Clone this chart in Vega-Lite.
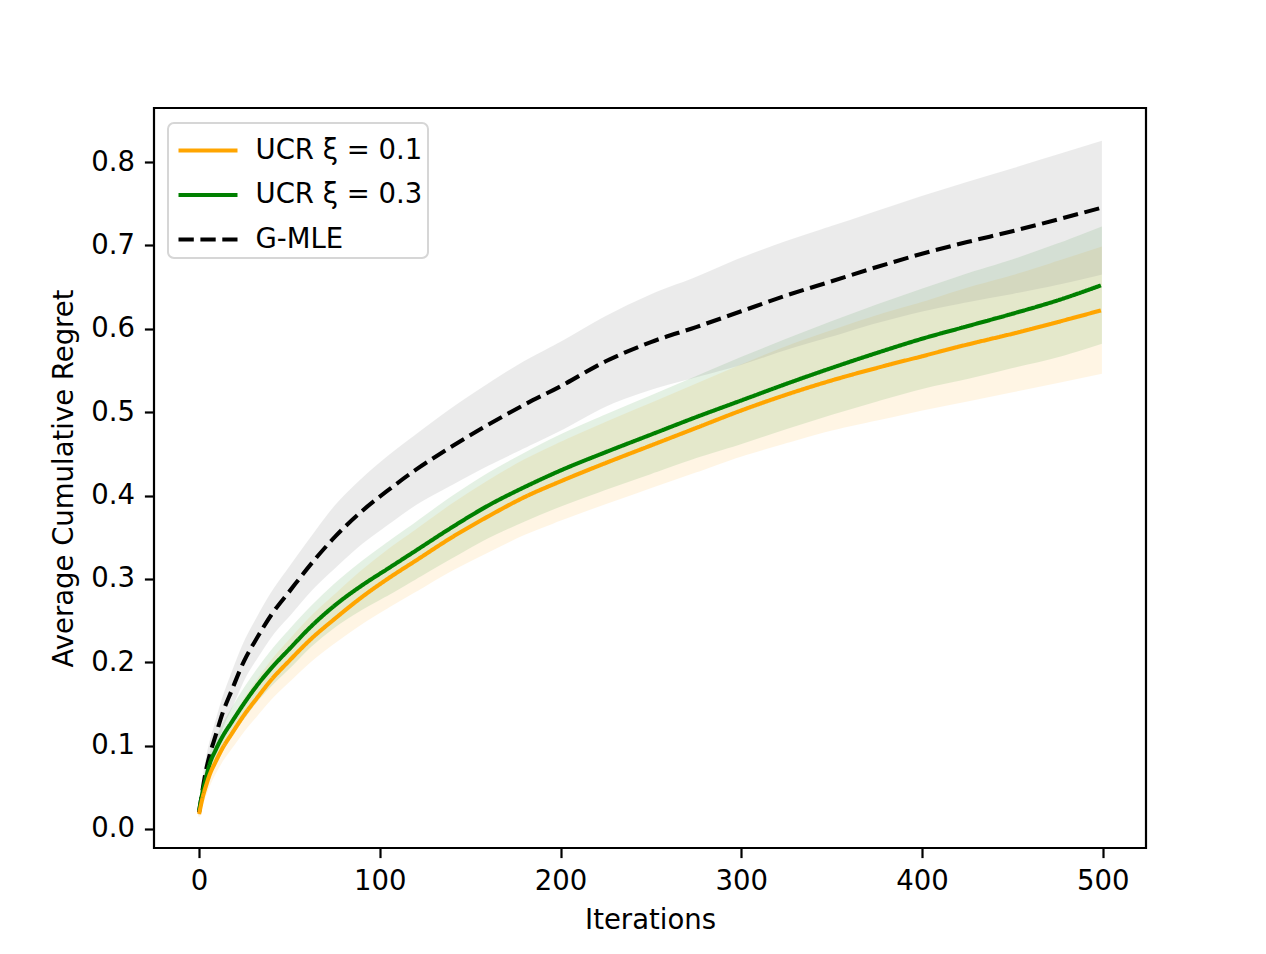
{
  "$schema": "https://vega.github.io/schema/vega-lite/v6.json",
  "width": 992,
  "height": 740,
  "autosize": "none",
  "padding": {"left": 154, "top": 108, "right": 120, "bottom": 106},
  "background": "white",
  "config": {
    "view": {"stroke": "black", "strokeWidth": 2.2},
    "font": "DejaVu Sans",
    "axis": {
      "grid": false,
      "domain": false,
      "tickColor": "black",
      "tickWidth": 2.2,
      "tickSize": 9.6,
      "labelPadding": 10,
      "labelFont": "DejaVu Sans",
      "labelFontSize": 27.5,
      "labelColor": "black",
      "titleFont": "DejaVu Sans",
      "titleFontSize": 27.5,
      "titleFontWeight": "normal",
      "titleColor": "black"
    },
    "legend": {"strokeWidth": 2}
  },
  "data": {
    "values": [
      {"it": 0, "s": "G-MLE", "m": 0.020, "lo": 0.017, "hi": 0.023},
      {"it": 2, "s": "G-MLE", "m": 0.048, "lo": 0.041, "hi": 0.055},
      {"it": 4, "s": "G-MLE", "m": 0.072, "lo": 0.062, "hi": 0.082},
      {"it": 6, "s": "G-MLE", "m": 0.090, "lo": 0.078, "hi": 0.102},
      {"it": 9, "s": "G-MLE", "m": 0.111, "lo": 0.097, "hi": 0.125},
      {"it": 13, "s": "G-MLE", "m": 0.139, "lo": 0.123, "hi": 0.155},
      {"it": 18, "s": "G-MLE", "m": 0.166, "lo": 0.147, "hi": 0.185},
      {"it": 25, "s": "G-MLE", "m": 0.202, "lo": 0.181, "hi": 0.223},
      {"it": 32, "s": "G-MLE", "m": 0.229, "lo": 0.206, "hi": 0.252},
      {"it": 40, "s": "G-MLE", "m": 0.257, "lo": 0.232, "hi": 0.282},
      {"it": 50, "s": "G-MLE", "m": 0.285, "lo": 0.257, "hi": 0.313},
      {"it": 62, "s": "G-MLE", "m": 0.318, "lo": 0.287, "hi": 0.349},
      {"it": 75, "s": "G-MLE", "m": 0.350, "lo": 0.314, "hi": 0.386},
      {"it": 90, "s": "G-MLE", "m": 0.381, "lo": 0.343, "hi": 0.419},
      {"it": 105, "s": "G-MLE", "m": 0.407, "lo": 0.367, "hi": 0.447},
      {"it": 120, "s": "G-MLE", "m": 0.431, "lo": 0.390, "hi": 0.472},
      {"it": 140, "s": "G-MLE", "m": 0.459, "lo": 0.414, "hi": 0.504},
      {"it": 160, "s": "G-MLE", "m": 0.485, "lo": 0.437, "hi": 0.533},
      {"it": 180, "s": "G-MLE", "m": 0.509, "lo": 0.458, "hi": 0.560},
      {"it": 200, "s": "G-MLE", "m": 0.531, "lo": 0.479, "hi": 0.583},
      {"it": 225, "s": "G-MLE", "m": 0.561, "lo": 0.508, "hi": 0.614},
      {"it": 250, "s": "G-MLE", "m": 0.584, "lo": 0.528, "hi": 0.640},
      {"it": 275, "s": "G-MLE", "m": 0.602, "lo": 0.543, "hi": 0.661},
      {"it": 300, "s": "G-MLE", "m": 0.621, "lo": 0.558, "hi": 0.684},
      {"it": 325, "s": "G-MLE", "m": 0.640, "lo": 0.576, "hi": 0.704},
      {"it": 350, "s": "G-MLE", "m": 0.657, "lo": 0.592, "hi": 0.722},
      {"it": 375, "s": "G-MLE", "m": 0.674, "lo": 0.608, "hi": 0.740},
      {"it": 400, "s": "G-MLE", "m": 0.690, "lo": 0.622, "hi": 0.758},
      {"it": 425, "s": "G-MLE", "m": 0.704, "lo": 0.633, "hi": 0.775},
      {"it": 450, "s": "G-MLE", "m": 0.717, "lo": 0.643, "hi": 0.791},
      {"it": 475, "s": "G-MLE", "m": 0.731, "lo": 0.654, "hi": 0.808},
      {"it": 499, "s": "G-MLE", "m": 0.745, "lo": 0.666, "hi": 0.824},

      {"it": 0, "s": "UCR ξ = 0.3", "m": 0.022, "lo": 0.019, "hi": 0.025},
      {"it": 2, "s": "UCR ξ = 0.3", "m": 0.045, "lo": 0.039, "hi": 0.051},
      {"it": 4, "s": "UCR ξ = 0.3", "m": 0.063, "lo": 0.055, "hi": 0.071},
      {"it": 6, "s": "UCR ξ = 0.3", "m": 0.079, "lo": 0.069, "hi": 0.089},
      {"it": 9, "s": "UCR ξ = 0.3", "m": 0.094, "lo": 0.083, "hi": 0.105},
      {"it": 13, "s": "UCR ξ = 0.3", "m": 0.111, "lo": 0.098, "hi": 0.124},
      {"it": 18, "s": "UCR ξ = 0.3", "m": 0.128, "lo": 0.113, "hi": 0.143},
      {"it": 25, "s": "UCR ξ = 0.3", "m": 0.151, "lo": 0.134, "hi": 0.168},
      {"it": 32, "s": "UCR ξ = 0.3", "m": 0.172, "lo": 0.154, "hi": 0.190},
      {"it": 40, "s": "UCR ξ = 0.3", "m": 0.193, "lo": 0.173, "hi": 0.213},
      {"it": 50, "s": "UCR ξ = 0.3", "m": 0.216, "lo": 0.194, "hi": 0.238},
      {"it": 62, "s": "UCR ξ = 0.3", "m": 0.243, "lo": 0.220, "hi": 0.266},
      {"it": 75, "s": "UCR ξ = 0.3", "m": 0.268, "lo": 0.243, "hi": 0.293},
      {"it": 90, "s": "UCR ξ = 0.3", "m": 0.292, "lo": 0.264, "hi": 0.320},
      {"it": 105, "s": "UCR ξ = 0.3", "m": 0.313, "lo": 0.282, "hi": 0.344},
      {"it": 120, "s": "UCR ξ = 0.3", "m": 0.334, "lo": 0.301, "hi": 0.367},
      {"it": 140, "s": "UCR ξ = 0.3", "m": 0.362, "lo": 0.326, "hi": 0.398},
      {"it": 160, "s": "UCR ξ = 0.3", "m": 0.388, "lo": 0.350, "hi": 0.426},
      {"it": 180, "s": "UCR ξ = 0.3", "m": 0.410, "lo": 0.370, "hi": 0.450},
      {"it": 200, "s": "UCR ξ = 0.3", "m": 0.430, "lo": 0.388, "hi": 0.472},
      {"it": 225, "s": "UCR ξ = 0.3", "m": 0.452, "lo": 0.408, "hi": 0.496},
      {"it": 250, "s": "UCR ξ = 0.3", "m": 0.473, "lo": 0.427, "hi": 0.519},
      {"it": 275, "s": "UCR ξ = 0.3", "m": 0.494, "lo": 0.446, "hi": 0.542},
      {"it": 300, "s": "UCR ξ = 0.3", "m": 0.514, "lo": 0.463, "hi": 0.565},
      {"it": 325, "s": "UCR ξ = 0.3", "m": 0.534, "lo": 0.481, "hi": 0.587},
      {"it": 350, "s": "UCR ξ = 0.3", "m": 0.553, "lo": 0.498, "hi": 0.608},
      {"it": 375, "s": "UCR ξ = 0.3", "m": 0.571, "lo": 0.514, "hi": 0.628},
      {"it": 400, "s": "UCR ξ = 0.3", "m": 0.588, "lo": 0.529, "hi": 0.647},
      {"it": 425, "s": "UCR ξ = 0.3", "m": 0.603, "lo": 0.541, "hi": 0.665},
      {"it": 450, "s": "UCR ξ = 0.3", "m": 0.618, "lo": 0.554, "hi": 0.682},
      {"it": 475, "s": "UCR ξ = 0.3", "m": 0.634, "lo": 0.567, "hi": 0.701},
      {"it": 499, "s": "UCR ξ = 0.3", "m": 0.652, "lo": 0.583, "hi": 0.721},

      {"it": 0, "s": "UCR ξ = 0.1", "m": 0.018, "lo": 0.015, "hi": 0.021},
      {"it": 2, "s": "UCR ξ = 0.1", "m": 0.038, "lo": 0.032, "hi": 0.044},
      {"it": 4, "s": "UCR ξ = 0.1", "m": 0.053, "lo": 0.044, "hi": 0.062},
      {"it": 6, "s": "UCR ξ = 0.1", "m": 0.066, "lo": 0.055, "hi": 0.077},
      {"it": 9, "s": "UCR ξ = 0.1", "m": 0.080, "lo": 0.068, "hi": 0.092},
      {"it": 13, "s": "UCR ξ = 0.1", "m": 0.097, "lo": 0.083, "hi": 0.111},
      {"it": 18, "s": "UCR ξ = 0.1", "m": 0.114, "lo": 0.098, "hi": 0.130},
      {"it": 25, "s": "UCR ξ = 0.1", "m": 0.137, "lo": 0.119, "hi": 0.155},
      {"it": 32, "s": "UCR ξ = 0.1", "m": 0.157, "lo": 0.137, "hi": 0.177},
      {"it": 40, "s": "UCR ξ = 0.1", "m": 0.179, "lo": 0.157, "hi": 0.201},
      {"it": 50, "s": "UCR ξ = 0.1", "m": 0.202, "lo": 0.178, "hi": 0.226},
      {"it": 62, "s": "UCR ξ = 0.1", "m": 0.228, "lo": 0.202, "hi": 0.254},
      {"it": 75, "s": "UCR ξ = 0.1", "m": 0.252, "lo": 0.224, "hi": 0.280},
      {"it": 90, "s": "UCR ξ = 0.1", "m": 0.278, "lo": 0.247, "hi": 0.309},
      {"it": 105, "s": "UCR ξ = 0.1", "m": 0.301, "lo": 0.267, "hi": 0.335},
      {"it": 120, "s": "UCR ξ = 0.1", "m": 0.322, "lo": 0.286, "hi": 0.358},
      {"it": 140, "s": "UCR ξ = 0.1", "m": 0.350, "lo": 0.311, "hi": 0.389},
      {"it": 160, "s": "UCR ξ = 0.1", "m": 0.375, "lo": 0.333, "hi": 0.417},
      {"it": 180, "s": "UCR ξ = 0.1", "m": 0.398, "lo": 0.354, "hi": 0.442},
      {"it": 200, "s": "UCR ξ = 0.1", "m": 0.417, "lo": 0.371, "hi": 0.463},
      {"it": 225, "s": "UCR ξ = 0.1", "m": 0.439, "lo": 0.391, "hi": 0.487},
      {"it": 250, "s": "UCR ξ = 0.1", "m": 0.460, "lo": 0.410, "hi": 0.510},
      {"it": 275, "s": "UCR ξ = 0.1", "m": 0.481, "lo": 0.429, "hi": 0.533},
      {"it": 300, "s": "UCR ξ = 0.1", "m": 0.502, "lo": 0.448, "hi": 0.556},
      {"it": 325, "s": "UCR ξ = 0.1", "m": 0.521, "lo": 0.464, "hi": 0.578},
      {"it": 350, "s": "UCR ξ = 0.1", "m": 0.538, "lo": 0.479, "hi": 0.597},
      {"it": 375, "s": "UCR ξ = 0.1", "m": 0.553, "lo": 0.491, "hi": 0.615},
      {"it": 400, "s": "UCR ξ = 0.1", "m": 0.567, "lo": 0.503, "hi": 0.631},
      {"it": 425, "s": "UCR ξ = 0.1", "m": 0.581, "lo": 0.514, "hi": 0.648},
      {"it": 450, "s": "UCR ξ = 0.1", "m": 0.594, "lo": 0.525, "hi": 0.663},
      {"it": 475, "s": "UCR ξ = 0.1", "m": 0.608, "lo": 0.536, "hi": 0.680},
      {"it": 499, "s": "UCR ξ = 0.1", "m": 0.622, "lo": 0.547, "hi": 0.697}
    ]
  },
  "encoding": {
    "x": {
      "field": "it",
      "type": "quantitative",
      "title": "Iterations",
      "scale": {"domain": [-24.95, 523.95], "nice": false, "zero": false},
      "axis": {"values": [0, 100, 200, 300, 400, 500], "titlePadding": 11}
    },
    "y": {
      "field": "lo",
      "type": "quantitative",
      "title": "Average Cumulative Regret",
      "scale": {"domain": [-0.0228, 0.8648], "nice": false, "zero": false},
      "axis": {"values": [0, 0.1, 0.2, 0.3, 0.4, 0.5, 0.6, 0.7, 0.8], "format": ".1f", "titlePadding": 12}
    }
  },
  "layer": [
    {
      "transform": [{"filter": "datum.s == 'UCR ξ = 0.1'"}],
      "mark": {"type": "area", "fill": "#FFA500", "stroke": "#FFA500", "strokeWidth": 2, "opacity": 0.1, "interpolate": "monotone"},
      "encoding": {"y2": {"field": "hi"}}
    },
    {
      "transform": [{"filter": "datum.s == 'UCR ξ = 0.3'"}],
      "mark": {"type": "area", "fill": "#008000", "stroke": "#008000", "strokeWidth": 2, "opacity": 0.1, "interpolate": "monotone"},
      "encoding": {"y2": {"field": "hi"}}
    },
    {
      "transform": [{"filter": "datum.s == 'G-MLE'"}],
      "mark": {"type": "area", "fill": "#808080", "stroke": "#808080", "strokeWidth": 2, "opacity": 0.15, "interpolate": "monotone"},
      "encoding": {"y2": {"field": "hi"}}
    },
    {
      "mark": {"type": "line", "strokeWidth": 4.1, "interpolate": "monotone"},
      "encoding": {
        "y": {"field": "m", "type": "quantitative"},
        "color": {
          "field": "s",
          "type": "nominal",
          "scale": {"domain": ["UCR ξ = 0.1", "UCR ξ = 0.3", "G-MLE"], "range": ["#FFA500", "#008000", "#000000"]},
          "legend": {
            "orient": "none",
            "legendX": 14,
            "legendY": 15,
            "title": null,
            "labelFont": "DejaVu Sans",
            "labelFontSize": 27.5,
            "labelColor": "black",
            "labelLimit": 400,
            "labelOffset": 25,
            "symbolType": "M-1.475,0H1.475",
            "symbolSize": 1600,
            "symbolOffset": 12.5,
            "symbolStrokeWidth": 4.1,
            "rowPadding": 8.5,
            "padding": 5,
            "strokeColor": "#d6d6d6",
            "fillColor": "white",
            "cornerRadius": 6
          }
        },
        "strokeDash": {
          "field": "s",
          "type": "nominal",
          "scale": {"domain": ["UCR ξ = 0.1", "UCR ξ = 0.3", "G-MLE"], "range": [[1, 0], [1, 0], [15.3, 6.6]]},
          "legend": {
            "orient": "none",
            "legendX": 14,
            "legendY": 15,
            "title": null,
            "labelFont": "DejaVu Sans",
            "labelFontSize": 27.5,
            "labelColor": "black",
            "labelLimit": 400,
            "labelOffset": 25,
            "symbolType": "M-1.475,0H1.475",
            "symbolSize": 1600,
            "symbolOffset": 12.5,
            "symbolStrokeWidth": 4.1,
            "rowPadding": 8.5,
            "padding": 5,
            "strokeColor": "#d6d6d6",
            "fillColor": "white",
            "cornerRadius": 6
          }
        }
      }
    }
  ]
}
